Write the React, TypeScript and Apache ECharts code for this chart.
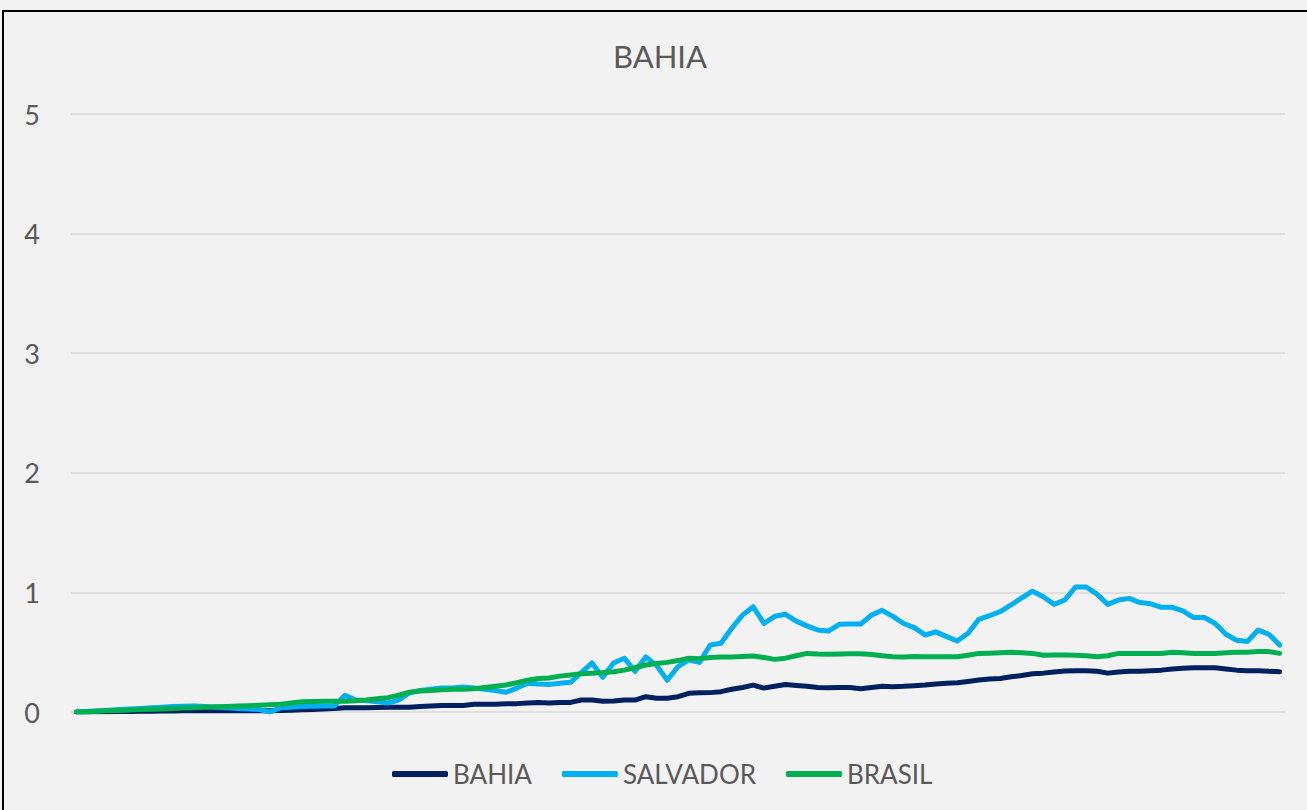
import React, { useEffect, useRef } from "react";
import * as echarts from "echarts";

const title = "BAHIA";
const seriesNames = ["BAHIA", "SALVADOR", "BRASIL"];
const yTicks = [0, 1, 2, 3, 4, 5];

const bahia = [
  0.0, 0.001, 0.002, 0.003, 0.004, 0.005, 0.006, 0.007, 0.008, 0.009,
  0.01, 0.01, 0.01, 0.01, 0.01, 0.01, 0.01, 0.01, 0.01, 0.012,
  0.015, 0.018, 0.02, 0.025, 0.03, 0.035, 0.035, 0.035, 0.037, 0.04,
  0.04, 0.04, 0.045, 0.05, 0.055, 0.055, 0.055, 0.065, 0.065, 0.065,
  0.068, 0.07, 0.075, 0.08, 0.075, 0.08, 0.08, 0.1, 0.1, 0.09,
  0.092, 0.1, 0.1, 0.128, 0.115, 0.115, 0.128, 0.156, 0.16, 0.162,
  0.17, 0.19, 0.205, 0.225, 0.2, 0.215, 0.23, 0.222, 0.215, 0.205,
  0.203, 0.205, 0.205, 0.195, 0.205, 0.215, 0.212, 0.215, 0.22, 0.225,
  0.235, 0.24, 0.245, 0.255, 0.267, 0.275, 0.28, 0.295, 0.305, 0.32,
  0.325, 0.335, 0.343, 0.345, 0.345, 0.34, 0.325, 0.335, 0.34, 0.34,
  0.345, 0.35, 0.36, 0.365, 0.37, 0.371, 0.37, 0.36, 0.35, 0.345,
  0.345, 0.34, 0.337,
];

const salvador = [
  0.0, 0.005, 0.01, 0.015, 0.02, 0.025, 0.03, 0.035, 0.04, 0.045,
  0.048, 0.05, 0.045, 0.04, 0.035, 0.03, 0.025, 0.02, 0.0, 0.035,
  0.04, 0.045, 0.048, 0.05, 0.05, 0.14, 0.1, 0.095, 0.085, 0.075,
  0.1, 0.16, 0.18, 0.19, 0.2, 0.2, 0.21, 0.2, 0.19, 0.18,
  0.165, 0.2, 0.24, 0.235, 0.23, 0.24, 0.248, 0.33, 0.41, 0.29,
  0.41, 0.45, 0.34, 0.46, 0.39, 0.265, 0.38, 0.435, 0.415, 0.56,
  0.575, 0.7, 0.81, 0.88, 0.74, 0.8, 0.817, 0.76, 0.72, 0.686,
  0.677, 0.733, 0.735, 0.735, 0.81, 0.85, 0.8, 0.74, 0.705, 0.644,
  0.67, 0.63, 0.594, 0.658, 0.775, 0.805, 0.84, 0.895, 0.955, 1.01,
  0.964, 0.9, 0.936, 1.045, 1.045, 0.985, 0.9, 0.936, 0.95, 0.915,
  0.905, 0.875, 0.875, 0.845, 0.79, 0.79, 0.74, 0.65, 0.6, 0.59,
  0.685, 0.65, 0.56,
];

const brasil = [
  0.0, 0.003, 0.006, 0.01, 0.013, 0.016, 0.02, 0.023, 0.026, 0.03,
  0.033, 0.036, 0.04, 0.043, 0.046, 0.05, 0.053, 0.056, 0.06, 0.065,
  0.075, 0.085, 0.088, 0.09, 0.09, 0.09, 0.095, 0.1, 0.11, 0.12,
  0.14, 0.165, 0.175, 0.18, 0.185, 0.19, 0.19, 0.195, 0.205, 0.215,
  0.226, 0.245, 0.265, 0.28, 0.285, 0.3, 0.31, 0.32, 0.325, 0.33,
  0.337, 0.35, 0.37, 0.393, 0.405, 0.415, 0.43, 0.45, 0.445, 0.455,
  0.46, 0.46, 0.465, 0.468, 0.455, 0.44, 0.45, 0.47, 0.49, 0.485,
  0.482, 0.485, 0.487, 0.487, 0.48, 0.47, 0.462, 0.46, 0.465, 0.462,
  0.462, 0.462, 0.462, 0.475, 0.49, 0.492, 0.495, 0.499, 0.495, 0.49,
  0.475, 0.477, 0.477, 0.475, 0.47, 0.462, 0.47, 0.49, 0.49, 0.49,
  0.49, 0.49, 0.499, 0.495, 0.49, 0.49, 0.49, 0.495, 0.5, 0.5,
  0.505, 0.505, 0.49,
];

const categories = bahia.map((_, i) => String(i + 1));
const colors = ["#002060", "#00B0F0", "#00B050"];

export default function App() {
  const ref = useRef<HTMLDivElement>(null);

  useEffect(() => {
    document.body.style.margin = "0";
    const chart = echarts.init(ref.current!, null, { renderer: "svg" });
    const font = "Lato, 'Noto Sans', sans-serif";
    const data = [bahia, salvador, brasil];
    chart.setOption({
      animation: false,
      textStyle: { fontFamily: font },
      graphic: [
        {
          type: "text",
          x: 660,
          y: 56,
          style: {
            text: title,
            fontFamily: font,
            fontSize: 31,
            fill: "#595959",
            textAlign: "center",
            textVerticalAlign: "middle",
          },
        },
      ],
      grid: { left: 71, right: 22, top: 114, bottom: 98, containLabel: false },
      legend: {
        data: seriesNames,
        left: 387,
        top: 756,
        icon: "roundRect",
        itemWidth: 56,
        itemHeight: 6,
        itemGap: 30,
        textStyle: { fontFamily: font, fontSize: 26, color: "#595959" },
      },
      xAxis: {
        type: "category",
        data: categories,
        boundaryGap: true,
        axisLine: { show: false },
        axisTick: { show: false },
        axisLabel: { show: false },
        splitLine: { show: false },
      },
      yAxis: {
        type: "value",
        min: yTicks[0],
        max: yTicks[yTicks.length - 1],
        interval: 1,
        axisLine: { show: false },
        axisTick: { show: false },
        axisLabel: { fontFamily: font, fontSize: 27, color: "#595959", margin: 31 },
        splitLine: { lineStyle: { color: "#d9d9d9", width: 1.5 } },
      },
      series: seriesNames.map((name, k) => ({
        name,
        type: "line",
        data: data[k],
        symbol: "none",
        showSymbol: false,
        lineStyle: { color: colors[k], width: 5, join: "round", cap: "round" },
        itemStyle: { color: colors[k] },
      })),
    });
    return () => chart.dispose();
  }, []);

  return (
    <div style={{ position: "fixed", left: 0, top: 0, width: 1307, height: 810, background: "#f2f2f2", overflow: "hidden" }}>
      <div
        style={{
          position: "absolute",
          left: 2,
          top: 10,
          width: 1330,
          height: 830,
          border: "2px solid #000",
          boxSizing: "border-box",
        }}
      />
      <div ref={ref} style={{ position: "absolute", left: 0, top: 0, width: 1307, height: 810 }} />
    </div>
  );
}
